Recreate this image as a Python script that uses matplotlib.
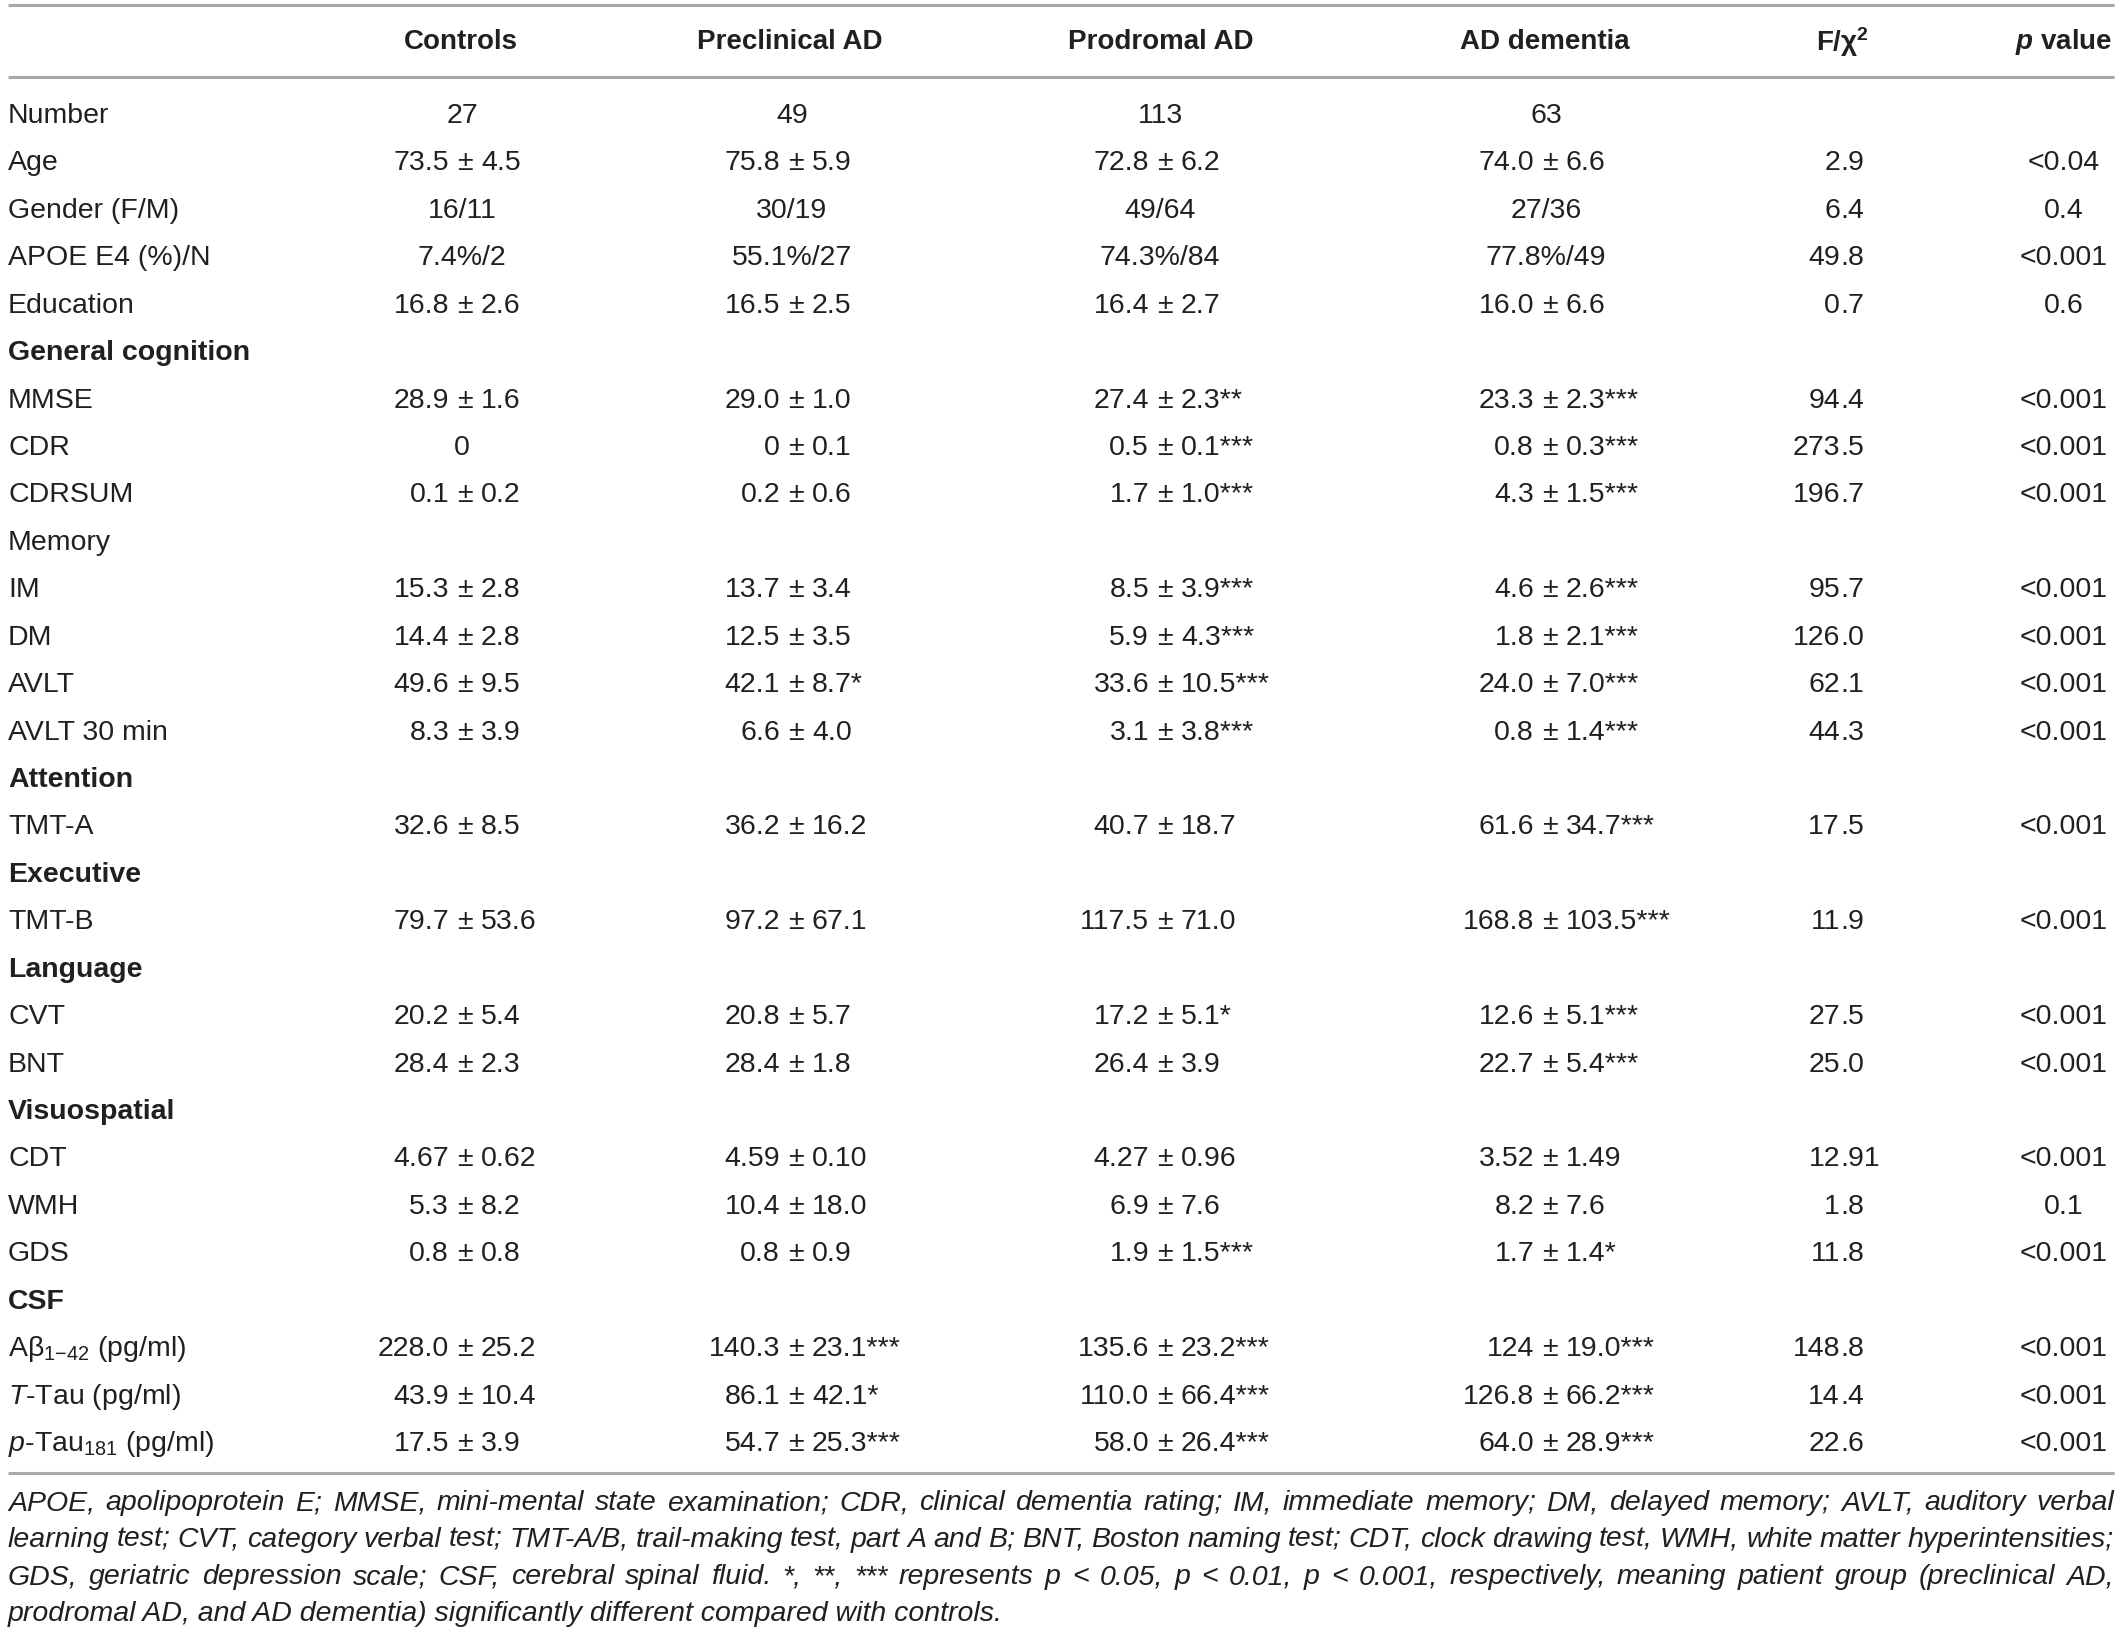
import matplotlib
matplotlib.use("Agg")
import matplotlib.pyplot as plt

plt.rcParams['font.family'] = ['Liberation Sans', 'DejaVu Sans']
plt.rcParams['mathtext.fontset'] = 'custom'
plt.rcParams['mathtext.rm'] = 'Liberation Sans'
plt.rcParams['mathtext.it'] = 'Liberation Sans:italic'
plt.rcParams['mathtext.bf'] = 'Liberation Sans:bold'
plt.rcParams['mathtext.bfit'] = 'Liberation Sans:italic:bold'

# table content
headers = ["Controls", "Preclinical AD", "Prodromal AD", "AD dementia",
           r"F/χ$^{\mathbf{2}}$", r"$\mathbfit{p}$ value"]

row_labels = ["Number", "Age", "Gender (F/M)", "APOE E4 (%)/N", "Education",
              "General cognition", "MMSE", "CDR", "CDRSUM", "Memory",
              "IM", "DM", "AVLT", "AVLT 30 min", "Attention", "TMT-A",
              "Executive", "TMT-B", "Language", "CVT", "BNT", "Visuospatial",
              "CDT", "WMH", "GDS", "CSF",
              r"Aβ$_{1{-}42}$ (pg/ml)", r"$\mathit{T}$-Tau (pg/ml)",
              r"$\mathit{p}$-Tau$_{181}$ (pg/ml)"]

section_rows = ["General cognition", "Attention", "Executive", "Language",
                "Visuospatial", "CSF"]

controls = ["27", "73.5 ± 4.5", "16/11", "7.4%/2", "16.8 ± 2.6",
            "", "28.9 ± 1.6", "0", "0.1 ± 0.2", "",
            "15.3 ± 2.8", "14.4 ± 2.8", "49.6 ± 9.5", "8.3 ± 3.9", "", "32.6 ± 8.5",
            "", "79.7 ± 53.6", "", "20.2 ± 5.4", "28.4 ± 2.3", "",
            "4.67 ± 0.62", "5.3 ± 8.2", "0.8 ± 0.8", "",
            "228.0 ± 25.2", "43.9 ± 10.4", "17.5 ± 3.9"]

preclinical = ["49", "75.8 ± 5.9", "30/19", "55.1%/27", "16.5 ± 2.5",
               "", "29.0 ± 1.0", "0 ± 0.1", "0.2 ± 0.6", "",
               "13.7 ± 3.4", "12.5 ± 3.5", "42.1 ± 8.7", "6.6 ± 4.0", "", "36.2 ± 16.2",
               "", "97.2 ± 67.1", "", "20.8 ± 5.7", "28.4 ± 1.8", "",
               "4.59 ± 0.10", "10.4 ± 18.0", "0.8 ± 0.9", "",
               "140.3 ± 23.1", "86.1 ± 42.1", "54.7 ± 25.3"]

prodromal = ["113", "72.8 ± 6.2", "49/64", "74.3%/84", "16.4 ± 2.7",
             "", "27.4 ± 2.3", "0.5 ± 0.1", "1.7 ± 1.0", "",
             "8.5 ± 3.9", "5.9 ± 4.3", "33.6 ± 10.5", "3.1 ± 3.8", "", "40.7 ± 18.7",
             "", "117.5 ± 71.0", "", "17.2 ± 5.1", "26.4 ± 3.9", "",
             "4.27 ± 0.96", "6.9 ± 7.6", "1.9 ± 1.5", "",
             "135.6 ± 23.2", "110.0 ± 66.4", "58.0 ± 26.4"]

dementia = ["63", "74.0 ± 6.6", "27/36", "77.8%/49", "16.0 ± 6.6",
            "", "23.3 ± 2.3", "0.8 ± 0.3", "4.3 ± 1.5", "",
            "4.6 ± 2.6", "1.8 ± 2.1", "24.0 ± 7.0", "0.8 ± 1.4", "", "61.6 ± 34.7",
            "", "168.8 ± 103.5", "", "12.6 ± 5.1", "22.7 ± 5.4", "",
            "3.52 ± 1.49", "8.2 ± 7.6", "1.7 ± 1.4", "",
            "124 ± 19.0", "126.8 ± 66.2", "64.0 ± 28.9"]

# significance marks vs controls
sig_controls = [""] * 29
sig_preclinical = ["", "", "", "", "", "", "", "", "", "",
                   "", "", "*", "", "", "", "", "", "", "", "", "",
                   "", "", "", "", "***", "*", "***"]
sig_prodromal = ["", "", "", "", "", "", "**", "***", "***", "",
                 "***", "***", "***", "***", "", "", "", "", "", "*", "", "",
                 "", "", "***", "", "***", "***", "***"]
sig_dementia = ["", "", "", "", "", "", "***", "***", "***", "",
                "***", "***", "***", "***", "", "***", "", "***", "", "***", "***", "",
                "", "", "*", "", "***", "***", "***"]

f_values = ["", "2.9", "6.4", "49.8", "0.7", "", "94.4", "273.5", "196.7", "",
            "95.7", "126.0", "62.1", "44.3", "", "17.5", "", "11.9", "", "27.5", "25.0", "",
            "12.91", "1.8", "11.8", "", "148.8", "14.4", "22.6"]

p_values = ["", "<0.04", "0.4", "<0.001", "0.6", "", "<0.001", "<0.001", "<0.001", "",
            "<0.001", "<0.001", "<0.001", "<0.001", "", "<0.001", "", "<0.001", "",
            "<0.001", "<0.001", "", "<0.001", "0.1", "<0.001", "", "<0.001", "<0.001",
            "<0.001"]

note_lines = [
    "APOE, apolipoprotein E; MMSE, mini-mental state examination; CDR, clinical dementia rating; IM, immediate memory; DM, delayed memory; AVLT, auditory verbal",
    "learning test; CVT, category verbal test; TMT-A/B, trail-making test, part A and B; BNT, Boston naming test; CDT, clock drawing test, WMH, white matter hyperintensities;",
    "GDS, geriatric depression scale; CSF, cerebral spinal fluid. *, **, *** represents p < 0.05, p < 0.01, p < 0.001, respectively, meaning patient group (preclinical AD,",
    "prodromal AD, and AD dementia) significantly different compared with controls.",
]

# layout (pixels)
W, H = 2120, 1634
ink = "#231f20"
rule = "#a8a8a8"
fs = 20.5
fs_head = 20
x_left, x_right = 8, 2114
header_y = 42
row_y0, row_dy = 115, 47.43
header_x = [461, 790, 1161, 1545, 1842, 2064]
pm_x = [465, 796, 1165, 1550]
center_x = [462, 792, 1160, 1546]
f_dec_x = 1840
p_x = 2064
note_y0, note_dy = 1503, 37

fig = plt.figure(figsize=(W / 100, H / 100), dpi=100)
ax = fig.add_axes([0, 0, 1, 1])
ax.set_xlim(0, W)
ax.set_ylim(H, 0)
ax.axis("off")

for yy in [5, 77, 1473]:
    ax.plot([x_left, x_right], [yy, yy], color=rule, lw=2.2, solid_capstyle="butt")

for hx, h in zip(header_x, headers):
    ax.text(hx, header_y, h, ha="center", va="center", fontsize=fs_head,
            fontweight="bold", color=ink)

pm_off = 11.5  # points between the ± centre and the numbers


def draw_cell(ci, y, value, stars):
    if value == "":
        return
    if " ± " in value:
        mean, sd = value.split(" ± ")
        x = pm_x[ci]
        ax.text(x, y, "±", ha="center", va="baseline", fontsize=fs, color=ink)
        ax.annotate(mean, xy=(x, y), xytext=(-pm_off, 0), textcoords="offset points",
                    ha="right", va="baseline", fontsize=fs, color=ink)
        ax.annotate(sd + stars, xy=(x, y), xytext=(pm_off, 0), textcoords="offset points",
                    ha="left", va="baseline", fontsize=fs, color=ink)
    else:
        ax.text(center_x[ci], y, value + stars, ha="center", va="baseline",
                fontsize=fs, color=ink)


columns = [(controls, sig_controls), (preclinical, sig_preclinical),
           (prodromal, sig_prodromal), (dementia, sig_dementia)]

for i, lab in enumerate(row_labels):
    y = row_y0 + i * row_dy + 8
    bold = lab in section_rows
    ax.text(x_left, y, lab, ha="left", va="baseline", fontsize=fs, color=ink,
            fontweight="bold" if bold else "normal")
    for ci, (vals, sig) in enumerate(columns):
        draw_cell(ci, y, vals[i], sig[i])
    if f_values[i]:
        whole, frac = f_values[i].split(".")
        ax.text(f_dec_x, y, whole, ha="right", va="baseline", fontsize=fs, color=ink)
        ax.text(f_dec_x, y, "." + frac, ha="left", va="baseline", fontsize=fs, color=ink)
    if p_values[i]:
        ax.text(p_x, y, p_values[i], ha="center", va="baseline", fontsize=fs, color=ink)

# footnote, justified like the journal layout
renderer = fig.canvas.get_renderer()
for i, line in enumerate(note_lines):
    y = note_y0 + i * note_dy
    if i == len(note_lines) - 1:
        ax.text(x_left, y, line, ha="left", va="center", fontsize=fs,
                style="italic", color=ink)
        continue
    words = line.split(" ")
    texts = [ax.text(0, y, w, ha="left", va="center", fontsize=fs,
                     style="italic", color=ink) for w in words]
    widths = [t.get_window_extent(renderer).width for t in texts]
    gap = (x_right - x_left - sum(widths)) / (len(words) - 1)
    x = x_left
    for t, w in zip(texts, widths):
        t.set_x(x)
        x += w + gap

fig.savefig("out.png", dpi=100)
